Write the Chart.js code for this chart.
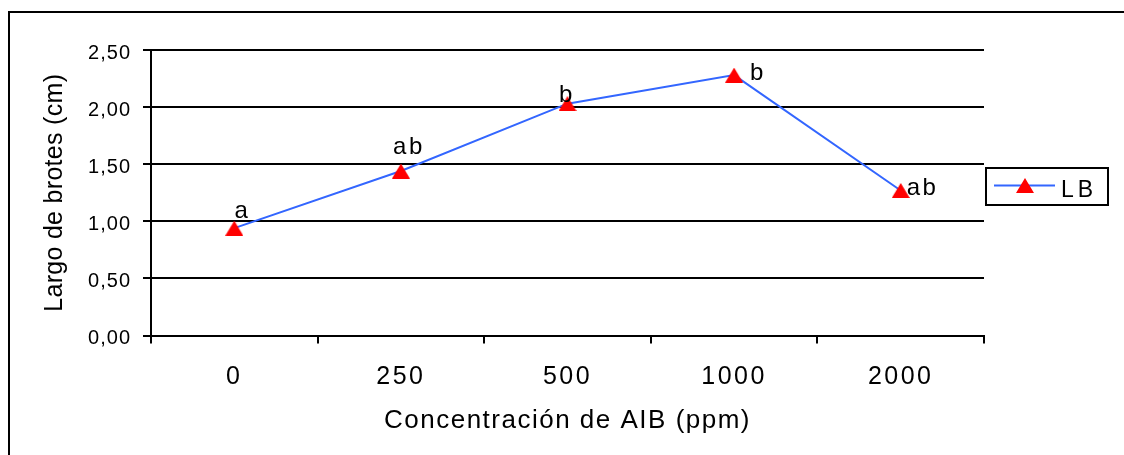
<!DOCTYPE html>
<html><head><meta charset="utf-8">
<script src="https://cdn.jsdelivr.net/npm/chart.js@4.4.0/dist/chart.umd.min.js"></script>
<style>html,body{margin:0;padding:0;background:#fff;overflow:hidden}canvas{display:block}</style>
</head><body>
<canvas id="c" width="1124" height="455"></canvas>
<script>
// ---- data ----
const categories = ['0', '250', '500', '1000', '2000'];
const seriesName = 'LB';
const lbValues = [0.94, 1.44, 2.03, 2.28, 1.27];
const pointLabels = ['a', 'ab', 'b', 'b', 'ab'];
const yTickLabels = ['0,00', '0,50', '1,00', '1,50', '2,00', '2,50'];
const xTitle = 'Concentración de AIB (ppm)';
const yTitle = 'Largo de brotes (cm)';

// ---- style ----
const FONT = '"Liberation Sans", Arial, sans-serif';
const LINE_COLOR = '#3366ff';
const MARK_COLOR = '#ff0000';
const labelPlacement = [
  {dx: 8, dy: -10, align: 'center'},
  {dx: 8, dy: -17, align: 'center'},
  {dx: -0.5, dy: -2, align: 'center'},
  {dx: 16, dy: 5, align: 'left'},
  {dx: 6, dy: 5, align: 'left'}
];

function triangle(w, h, color) {
  const c = document.createElement('canvas');
  c.width = w; c.height = h;
  const g = c.getContext('2d');
  g.fillStyle = color;
  g.beginPath(); g.moveTo(w / 2, 0); g.lineTo(w, h); g.lineTo(0, h); g.closePath(); g.fill();
  return c;
}
const marker = triangle(18, 15, MARK_COLOR);

const spacingMap = {x: {ticks: '2.5px', title: '1.5px'}, y: {ticks: '1px', title: '0.3px'}};
const spacingPlugin = {
  id: 'spacing',
  beforeDraw(chart) {
    for (const id in spacingMap) {
      const s = chart.scales[id];
      if (!s || s.__sp) continue;
      s.__sp = true;
      const dl = s.drawLabels.bind(s), dt = s.drawTitle.bind(s);
      s.drawLabels = function (a) { const c = this.ctx; c.save(); c.letterSpacing = spacingMap[id].ticks; dl(a); c.restore(); };
      s.drawTitle = function () { const c = this.ctx; c.save(); c.letterSpacing = spacingMap[id].title; dt(); c.restore(); };
    }
  }
};

const labelPlugin = {
  id: 'pointLabels',
  afterDatasetsDraw(chart) {
    const ctx = chart.ctx;
    const meta = chart.getDatasetMeta(0);
    meta.data.forEach((pt, i) => {
      const p = labelPlacement[i];
      ctx.save();
      ctx.font = '24px ' + FONT;
      ctx.letterSpacing = '2.5px';
      ctx.fillStyle = '#000';
      ctx.textAlign = p.align;
      ctx.textBaseline = 'alphabetic';
      ctx.fillText(pointLabels[i], pt.x + p.dx, pt.y + p.dy);
      ctx.restore();
    });
  }
};

const framePlugin = {
  id: 'frame',
  afterDraw(chart) {
    const ctx = chart.ctx;
    ctx.save();
    // outer border
    ctx.strokeStyle = '#000';
    ctx.lineWidth = 2;
    ctx.strokeRect(9, 12, 1200, 1200);
    // legend
    ctx.strokeRect(986, 168, 122, 37);
    ctx.strokeStyle = LINE_COLOR;
    ctx.lineWidth = 2;
    ctx.beginPath(); ctx.moveTo(994, 185.5); ctx.lineTo(1055, 185.5); ctx.stroke();
    ctx.drawImage(marker, 1025 - 9, 185.5 - 7.5);
    ctx.font = '23px ' + FONT;
    ctx.letterSpacing = '4px';
    ctx.fillStyle = '#000';
    ctx.textAlign = 'left';
    ctx.textBaseline = 'alphabetic';
    ctx.fillText(chart.data.datasets[0].label, 1061, 197);
    ctx.restore();
  }
};

Chart.defaults.color = '#000';
Chart.defaults.font.family = FONT;

new Chart(document.getElementById('c'), {
  type: 'line',
  data: {
    labels: categories,
    datasets: [{
      label: seriesName,
      data: lbValues,
      borderColor: LINE_COLOR,
      borderWidth: 2,
      tension: 0,
      pointStyle: marker,
      pointBackgroundColor: MARK_COLOR,
      pointBorderColor: MARK_COLOR,
      pointHoverRadius: 0
    }]
  },
  options: {
    responsive: false,
    animation: false,
    events: [],
    layout: {padding: {left: 0, top: 50, right: 140, bottom: 0}},
    plugins: {legend: {display: false}, tooltip: {enabled: false}},
    scales: {
      x: {
        offset: true,
        afterFit: s => { s.height = 119.5; },
        grid: {display: true, drawOnChartArea: false, drawTicks: true, tickLength: 8, offset: true, color: '#000', lineWidth: 2},
        border: {display: true, color: '#000', width: 2},
        ticks: {font: {size: 25}, padding: 19, color: '#000', maxRotation: 0, autoSkip: false},
        title: {display: true, text: xTitle, font: {size: 26}, color: '#000', padding: {top: 0, bottom: 18.5}}
      },
      y: {
        min: 0, max: 2.5,
        afterFit: s => { s.width = 151; },
        grid: {display: true, drawOnChartArea: true, drawTicks: true, tickLength: 8, color: '#000', lineWidth: 2},
        border: {display: true, color: '#000', width: 2},
        ticks: {stepSize: 0.5, font: {size: 20}, padding: 12, labelOffset: 3, color: '#000',
          callback: (v) => yTickLabels[Math.round(v / 0.5)]},
        title: {display: true, text: yTitle, font: {size: 25}, color: '#000', padding: {top: 40, bottom: 0}}
      }
    }
  },
  plugins: [spacingPlugin, labelPlugin, framePlugin]
});
</script>
</body></html>
